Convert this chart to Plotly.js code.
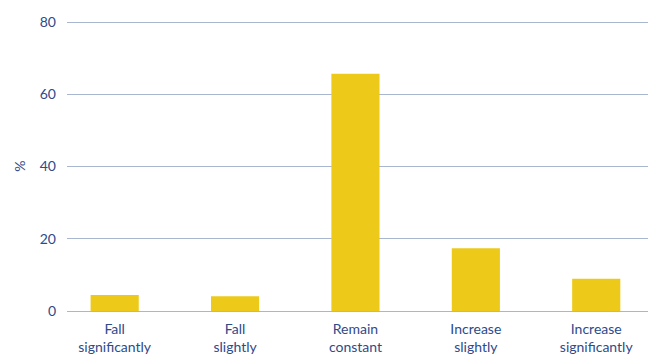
<!DOCTYPE html>
<html><head><meta charset="utf-8">
<script src="https://cdn.plot.ly/plotly-3.0.1.min.js"></script>
<style>html,body{margin:0;padding:0;background:#fff}#chart{width:653px;height:360px}</style>
</head><body><div id="chart"></div>
<script>
const categories = ["Fall<br>significantly", "Fall<br>slightly", "Remain<br>constant", "Increase<br>slightly", "Increase<br>significantly"];
const values = [4.4, 4.1, 65.7, 17.4, 8.9];
const yTicks = [0, 20, 40, 60, 80];

const txt = '#2F4A8A';
const font = {family: 'Lato, "Open Sans", sans-serif', size: 14, color: txt};

Plotly.newPlot('chart', [{
  type: 'bar',
  x: [0,1,2,3,4],
  y: values,
  width: 0.4,
  marker: {color: '#EDCA1A'},
  hoverinfo: 'none'
}], {
  width: 653, height: 360,
  margin: {l: 67, r: 5, t: 21, b: 49},
  paper_bgcolor: '#fff', plot_bgcolor: '#fff',
  font: font,
  showlegend: false,
  xaxis: {
    range: [-0.396, 4.43],
    tickmode: 'array', tickvals: [0,1,2,3,4], ticktext: categories,
    showgrid: false, zeroline: false,
    showline: true, linecolor: '#A9B6D0', linewidth: 1,
    ticks: '', tickfont: font,
    ticklabelstandoff: 5
  },
  yaxis: {
    range: [0, 80.3],
    tickmode: 'array', tickvals: yTicks, ticktext: yTicks.map(String),
    showgrid: true, gridcolor: '#A9B6D0', gridwidth: 1,
    zeroline: false, showline: false, ticks: '',
    ticklabelstandoff: 10,
    tickfont: font,
    title: {text: '%', font: font, standoff: 10}
  }
}, {staticPlot: true});
</script>
</body></html>
